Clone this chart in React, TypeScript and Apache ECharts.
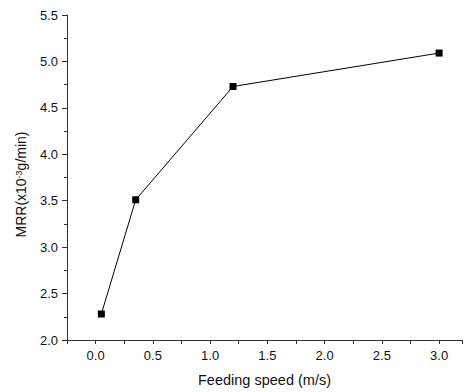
import React, { useEffect, useRef } from "react";
import * as echarts from "echarts";

const speeds = [0.05, 0.35, 1.2, 3.0];
const mrr = [2.28, 3.51, 4.73, 5.09];
const xTickLabels = ["0.0", "0.5", "1.0", "1.5", "2.0", "2.5", "3.0"];

export default function App() {
  const ref = useRef<HTMLDivElement>(null);
  useEffect(() => {
    if (!ref.current) return;
    const chart = echarts.init(ref.current, null, { renderer: "svg" });
    const font = "Liberation Sans, Arial, sans-serif";
    chart.setOption({
      animation: false,
      grid: { left: 67, top: 15, right: 0, bottom: 49, containLabel: false },
      xAxis: {
        type: "value",
        min: -0.25,
        max: 3.2,
        interval: 0.25,
        name: "Feeding speed (m/s)",
        nameLocation: "middle",
        nameGap: 32,
        nameTextStyle: { fontFamily: font, fontSize: 14.5, color: "#111" },
        axisLine: { show: true, onZero: false, lineStyle: { color: "#333", width: 1 } },
        axisTick: { show: true, inside: false, length: 4, lineStyle: { color: "#333" } },
        splitLine: { show: false },
        axisLabel: {
          fontFamily: font,
          fontSize: 13,
          color: "#111",
          margin: 9,
          showMinLabel: true,
          showMaxLabel: true,
          formatter: (v: number) => {
            const s = v.toFixed(1);
            return Math.abs(v * 2 - Math.round(v * 2)) < 1e-6 && xTickLabels.includes(s) ? s : "";
          },
        },
      },
      yAxis: {
        type: "value",
        min: 2.0,
        max: 5.5,
        interval: 0.5,
        name: "{a|MRR(x10}{s|-3}{a|g/min)}",
        nameLocation: "middle",
        nameGap: 33,
        nameRotate: 90,
        nameTextStyle: {
          fontFamily: font,
          fontSize: 14,
          color: "#111",
          padding: [0, 14, 0, 0],
          rich: {
            a: { fontFamily: font, fontSize: 14, color: "#111" },
            s: { fontFamily: font, fontSize: 9, color: "#111", verticalAlign: "top", lineHeight: 12, padding: [0, 0, 6, 0] },
          },
        },
        axisLine: { show: true, onZero: false, lineStyle: { color: "#333", width: 1 } },
        axisTick: { show: true, inside: false, length: 5, lineStyle: { color: "#333" } },
        minorTick: { show: true, splitNumber: 2, length: 3, lineStyle: { color: "#333" } },
        splitLine: { show: false },
        axisLabel: {
          fontFamily: font,
          fontSize: 13,
          color: "#111",
          margin: 9,
          formatter: (v: number) => v.toFixed(1),
        },
      },
      series: [
        {
          type: "line",
          data: speeds.map((x, i) => [x, mrr[i]]),
          symbol: "rect",
          symbolSize: 7,
          showAllSymbol: true,
          lineStyle: { color: "#000", width: 1 },
          itemStyle: { color: "#000" },
        },
      ],
    });
    return () => chart.dispose();
  }, []);
  return <div ref={ref} style={{ width: 465, height: 392, position: "absolute", left: 0, top: 0 }} />;
}
